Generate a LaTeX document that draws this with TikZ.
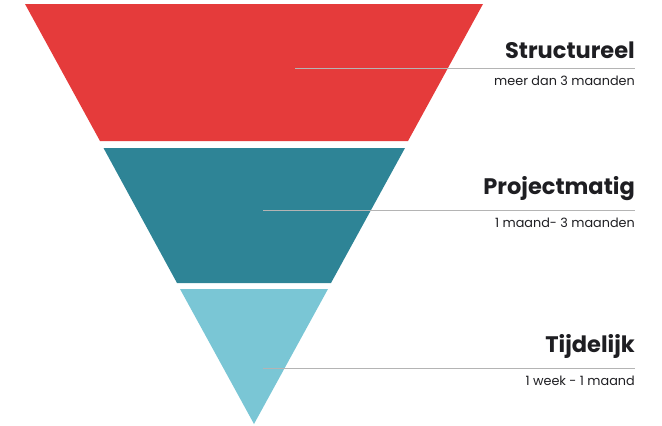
\documentclass[tikz,border=0pt]{standalone}
\usepackage{fontspec}
\setmainfont{Poppins}
\usepackage{tikz}
\usetikzlibrary{positioning,calc}

\definecolor{redseg}{HTML}{E53B3B}
\definecolor{tealseg}{HTML}{2E8496}
\definecolor{lightseg}{HTML}{7AC6D5}
\definecolor{rulegray}{HTML}{B4B4B4}
\definecolor{textdark}{HTML}{1E1E22}

\begin{document}
\begin{tikzpicture}
[
   x=1pt, y=-1pt,
   every node/.style={inner sep=0pt, text=textdark}
]

\tikzset{title/.style = {font=\bfseries\fontsize{22.5}{24}\selectfont, anchor=south east}}
\tikzset{sub/.style = {font=\fontsize{12.8}{14}\selectfont, anchor=north east}}
\tikzset{rule/.style = {draw=rulegray, line width=1pt}}

\useasboundingbox (0,0) rectangle (662,426);

% segments
\fill[redseg] (25,4) -- (483,4) -- (408,141) -- (100,141) -- cycle;
\fill[tealseg] (103.5,148) -- (405,148) -- (331,283) -- (177,283) -- cycle;
\fill[lightseg] (180,289) -- (328,289) -- (254,424) -- cycle;

% nodes
\coordinate (c1) at (295,68);
\coordinate (e1) at (635,68);
\coordinate (c2) at (263,210);
\coordinate (e2) at (635,210);
\coordinate (c3) at (263,368);
\coordinate (e3) at (635,368);

\node[title] (t1) [above = 9pt of e1, anchor=south east] {Structureel};
\node[sub] (s1) [below = 8pt of e1, anchor=north east] {meer dan 3 maanden};
\node[title] (t2) [above = 9pt of e2, anchor=south east] {Projectmatig};
\node[sub] (s2) [below = 8pt of e2, anchor=north east] {1 maand- 3 maanden};
\node[title] (t3) [above = 9pt of e3, anchor=south east] {Tijdelijk};
\node[sub] (s3) [below = 8pt of e3, anchor=north east] {1 week - 1 maand};

% lines
\draw[rule] (c1) -- (e1);
\draw[rule] (c2) -- (e2);
\draw[rule] (c3) -- (e3);
\end{tikzpicture}
\end{document}
